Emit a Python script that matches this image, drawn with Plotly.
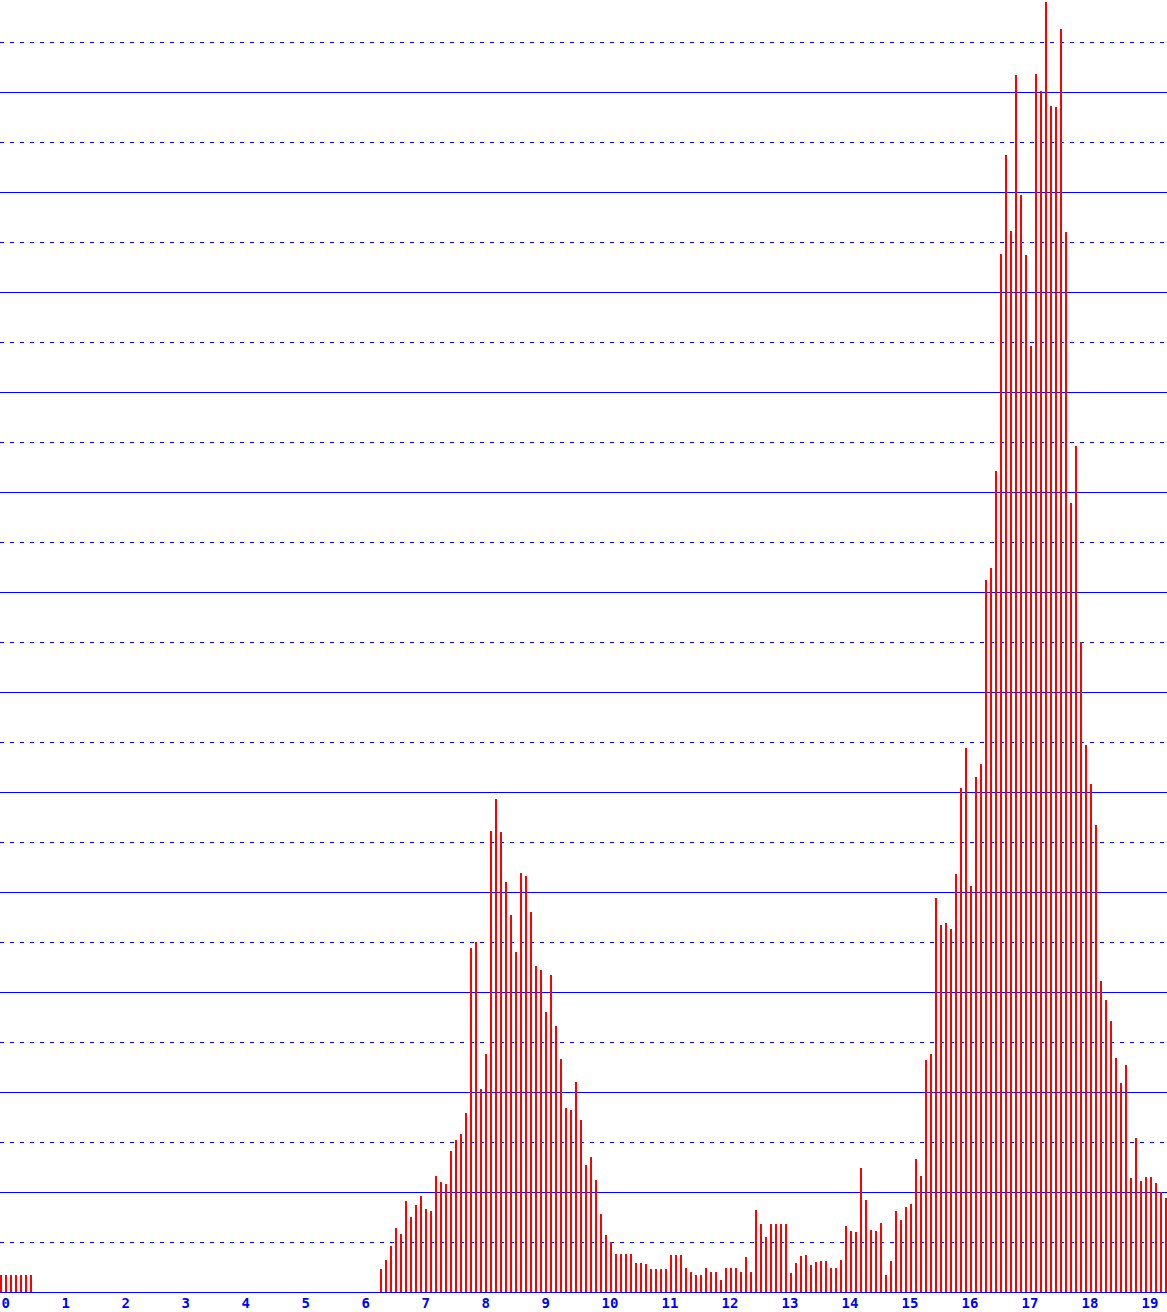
#!/usr/bin/env python3
"""
Five-minute activity profile, red spikes on a blue grid.
"""

import plotly.graph_objects as go

# one value per 5-minute slot, starting at 0:00
night = [17, 17, 17, 17, 17, 17, 17]
quiet_gap = [0] * 69
morning = [23, 32, 46, 64, 58, 91, 75, 87, 96, 83, 81, 116, 110, 108, 141, 152,
           158, 179, 344, 350, 203, 238, 461, 493, 460, 410, 377, 340, 419, 416,
           380, 326, 322, 280, 317, 266, 233, 184, 182, 210, 172, 127, 135, 112]
midday = [78, 57, 50, 38, 38, 38, 38, 29, 29, 28, 23, 23, 23, 23, 37, 37, 37,
          24, 20, 17, 17, 24, 20, 20, 12, 24, 24, 24, 20, 35, 20, 82, 68, 55,
          68, 68, 68, 68, 19, 29, 36, 37, 27, 30, 31, 31, 24, 24, 32, 66, 61,
          60, 124, 92, 62, 61, 69, 17, 31, 81, 72, 85, 88, 133, 116, 232]
evening = [238, 394, 367, 369, 363, 418, 504, 544, 406, 515, 528, 712, 724, 821,
           1038, 1137, 1061, 1217, 1097, 1037, 946, 1218, 1201, 1290, 1186, 1185,
           1263, 1060, 789, 846, 650, 547, 508, 467, 311, 292, 271, 234, 209, 227,
           114, 154, 111, 115, 115, 109, 100, 94]

hour_labels = [str(h) for h in range(20)]

values = night + quiet_gap + morning + midday + evening
slots = list(range(len(values)))

fig = go.Figure()

fig.add_trace(
    go.Bar(
        x=slots,
        y=values,
        width=0.4,
        marker_color='#FF0000',
        marker_line_width=0,
        showlegend=False,
        hoverinfo='skip'
    )
)

fig.update_layout(
    width=1167,
    height=1312,
    margin=dict(l=0, r=0, t=0, b=20, autoexpand=False),
    paper_bgcolor='white',
    plot_bgcolor='white',
    bargap=0,
    showlegend=False
)

fig.update_xaxes(
    range=[-0.2, 233.2],
    tickvals=[12 * h for h in range(len(hour_labels))],
    ticktext=hour_labels,
    ticklabelposition='outside right',
    ticklabelstandoff=-2,
    tickfont=dict(family='DejaVu Sans Mono', size=14, color='#0000FF',
                  weight='bold'),
    ticks='',
    showgrid=False,
    zeroline=False,
    showline=True,
    linecolor='#0000FF',
    linewidth=1
)

fig.update_yaxes(
    range=[0, 1292],
    dtick=100,
    showticklabels=False,
    showgrid=True,
    gridcolor='#0000FF',
    gridwidth=1,
    zeroline=False,
    minor=dict(dtick=50, showgrid=True, gridcolor='#0000FF',
               gridwidth=1, griddash='4px,6px')
)

# drop the browser's default 8px page margin so the chart sits flush
fig.write_html("out.html", config={'displayModeBar': False},
               post_script="document.body.style.margin='0';")
